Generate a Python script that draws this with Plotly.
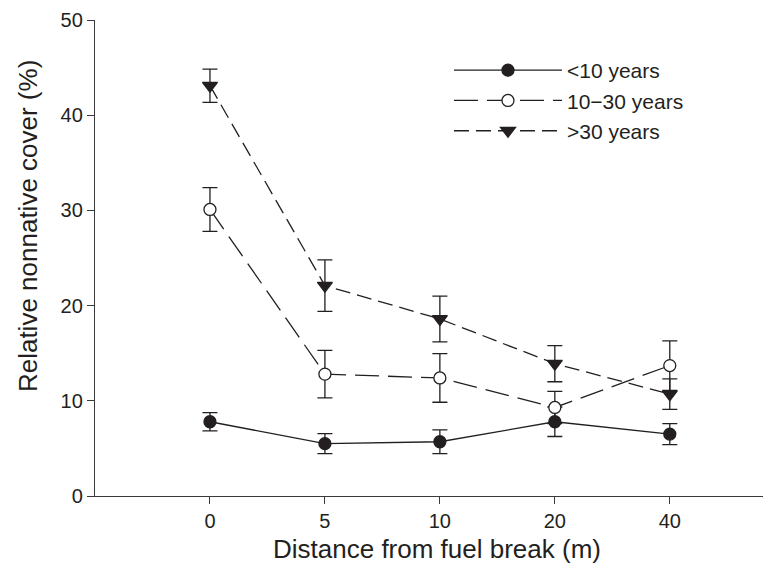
import plotly.graph_objects as go

distances = ["0", "5", "10", "20", "40"]
x_idx = [0, 1, 2, 3, 4]

young = [7.8, 5.5, 5.7, 7.8, 6.5]
young_err = [0.95, 1.05, 1.25, 1.55, 1.1]
mid = [30.1, 12.8, 12.4, 9.3, 13.7]
mid_err = [2.3, 2.5, 2.55, 1.7, 2.6]
old = [43.1, 22.1, 18.6, 13.9, 10.7]
old_err = [1.75, 2.7, 2.4, 1.9, 1.6]

ink = "#231f20"
axis_ink = "#3a3a3a"
fig = go.Figure()

def add(name, y, err, symbol, fill, dash):
    fig.add_trace(go.Scatter(
        x=x_idx, y=y, name=name, mode="lines+markers",
        line=dict(color=ink, width=1.3, dash=dash),
        marker=dict(symbol=symbol, size=12 if symbol == "circle" else 13,
                    color=fill, line=dict(color=ink, width=1.3)),
        error_y=dict(type="data", array=err, visible=True, color=ink,
                     thickness=1.3, width=7.5),
    ))

add("<10 years", young, young_err, "circle", ink, "solid")
add("10\u221230 years", mid, mid_err, "circle", "white", "24px,9px")
add(">30 years", old, old_err, "triangle-down", ink, "15px,7px")

fig.update_layout(
    width=771, height=566,
    margin=dict(l=87, r=0, t=12, b=78, autoexpand=False),
    paper_bgcolor="white", plot_bgcolor="white",
    font=dict(family="Liberation Sans, Arial, sans-serif", color=ink, size=20),
    showlegend=True,
    legend=dict(x=0.5175, y=0.937, xanchor="left", yanchor="top",
                bgcolor="rgba(0,0,0,0)", font=dict(size=21),
                itemwidth=108, tracegroupgap=0),
    annotations=[dict(
        text="Relative nonnative cover (%)", textangle=-90,
        xref="paper", yref="paper", x=-0.098, y=0.567,
        xanchor="center", yanchor="middle", showarrow=False,
        font=dict(size=26, color=ink),
    )],
)
fig.update_xaxes(
    tickmode="array", tickvals=x_idx, ticktext=distances,
    range=[-1, 4.95], showline=True, linecolor=axis_ink, linewidth=1.3,
    ticks="outside", ticklen=7, tickcolor=axis_ink, tickwidth=1.3,
    showgrid=False, zeroline=False, automargin=False,
    tickfont=dict(size=20),
    title=dict(text="Distance from fuel break (m)", font=dict(size=26), standoff=8),
)
fig.update_yaxes(
    range=[0, 50], tickvals=[0, 10, 20, 30, 40, 50],
    showline=True, linecolor=axis_ink, linewidth=1.3,
    ticks="outside", ticklen=7, tickcolor=axis_ink, tickwidth=1.3,
    showgrid=False, zeroline=False, ticklabeloverflow="allow", automargin=False,
    tickfont=dict(size=20),
)

fig.write_html("out.html")
